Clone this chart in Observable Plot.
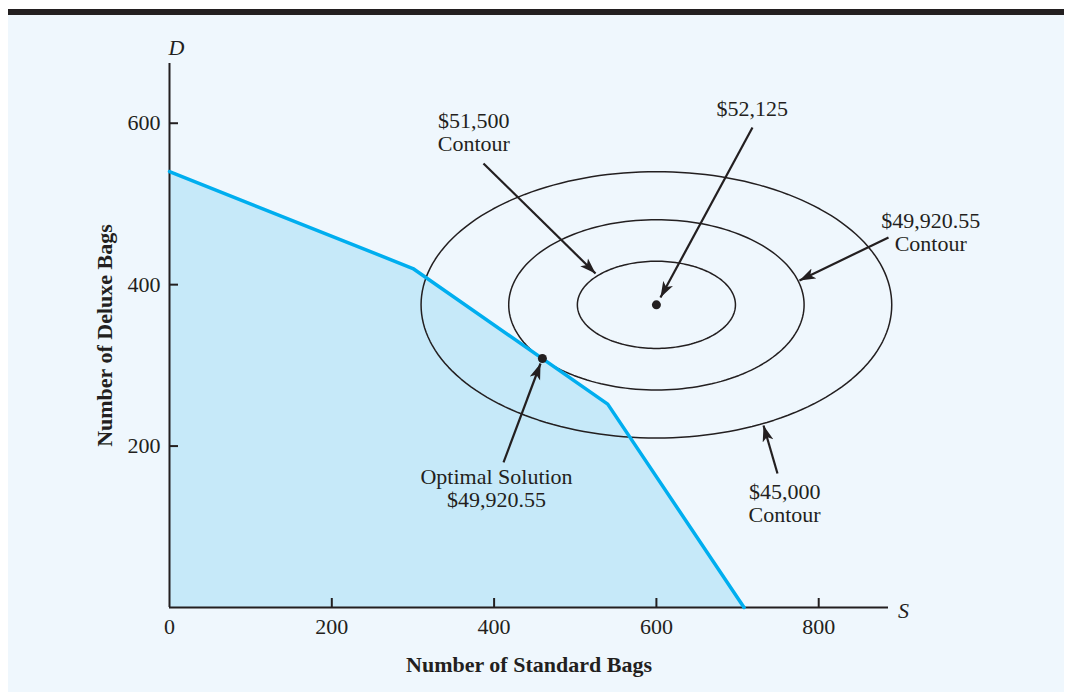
<!DOCTYPE html>
<html>
<head>
<meta charset="utf-8">
<script src="https://cdn.jsdelivr.net/npm/d3@7"></script>
<script src="https://cdn.jsdelivr.net/npm/@observablehq/plot@0.6"></script>
<style>
  html, body { margin: 0; padding: 0; background: #ffffff; }
  #wrap { position: relative; width: 1068px; height: 692px; overflow: hidden; }
  #bar { position: absolute; left: 8px; top: 9px; width: 1056px; height: 6px; background: #231f20; }
  #panel { position: absolute; left: 8px; top: 15px; width: 1056px; height: 677px; background: #eff7fd; }
  #chart { position: absolute; left: 0; top: 0; }
</style>
</head>
<body>
<div id="wrap">
  <div id="bar"></div>
  <div id="panel"></div>
  <div id="chart"></div>
</div>
<script>
// Feasible region boundary (vertices)
const regionS = [0, 300, 540, 708];
const regionD = [540, 420, 252, 0];

// Profit contours: centre and semi-axes
const centerS = 600;
const centerD = 375;
const contourA = [97.4, 182, 290];
const contourB = [54, 105.5, 165];

// Optimal solution
const optimalS = [459.5];
const optimalD = [308.5];

// Ticks
const xTickLabels = [0, 200, 400, 600, 800];
const xTicks = [200, 400, 600, 800];
const yTicks = [200, 400, 600];

// Annotations
const annLabels = ["$52,125", "$51,500\nContour", "$49,920.55\nContour", "Optimal Solution\n$49,920.55", "$45,000\nContour"];
const annS = [718, 375, 938, 403, 758];
const annD = [618, 589, 465, 148, 129.5];
const arrowS1 = [718.4, 386.9, 886, 411.6, 749.2];
const arrowD1 = [594.7, 550.1, 458.4, 179.7, 166];
const arrowS2 = [605, 525, 776.3, 457.2, 732];
const arrowD2 = [384, 413.8, 405.2, 302.3, 225.5];

const ink = "#231f20";
const font = "'Liberation Serif', 'Times New Roman', serif";

const region = regionS.map((s, i) => ({S: s, D: regionD[i]}));
const ellipsePts = [];
contourA.forEach((a, c) => {
  const b = contourB[c];
  for (let k = 0; k < 180; k++) {
    const t = (k / 180) * 2 * Math.PI;
    ellipsePts.push({S: centerS + a * Math.cos(t), D: centerD + b * Math.sin(t), c});
  }
});
const dots = [{S: centerS, D: centerD}, {S: optimalS[0], D: optimalD[0]}];
const anns = annLabels.map((t, i) => ({t, S: annS[i], D: annD[i]}));
const arrows = arrowS1.map((s, i) => ({S1: s, D1: arrowD1[i], S2: arrowS2[i], D2: arrowD2[i]}));

function filledHead(color, context) {
  const doc = (context && context.document) || document;
  const m = doc.createElementNS("http://www.w3.org/2000/svg", "marker");
  m.setAttribute("viewBox", "-16 -6 16 12");
  m.setAttribute("markerWidth", "16");
  m.setAttribute("markerHeight", "12");
  m.setAttribute("markerUnits", "userSpaceOnUse");
  m.setAttribute("refX", "0");
  m.setAttribute("refY", "0");
  m.setAttribute("orient", "auto");
  const p = doc.createElementNS("http://www.w3.org/2000/svg", "path");
  p.setAttribute("d", "M-16,-5.5L0,0L-16,5.5L-12,0Z");
  p.setAttribute("fill", ink);
  p.setAttribute("stroke", "none");
  m.appendChild(p);
  return m;
}

const chart = Plot.plot({
  width: 1068,
  height: 692,
  marginLeft: 169,
  marginRight: 180,
  marginTop: 63,
  marginBottom: 85,
  x: {domain: [0, 886], label: null},
  y: {domain: [0, 674], label: null},
  style: {background: "transparent", fontFamily: font, fontSize: "22px", color: ink, overflow: "visible"},
  marks: [
    Plot.areaY(region, {x: "S", y: "D", fill: "#c6e9f9"}),
    Plot.line(ellipsePts, {x: "S", y: "D", z: "c", curve: "linear-closed", stroke: ink, strokeWidth: 1.5}),
    Plot.ruleY([0], {stroke: ink, strokeWidth: 2}),
    Plot.ruleX([0], {stroke: ink, strokeWidth: 2}),
    Plot.line(region, {x: "S", y: "D", stroke: "#00aeef", strokeWidth: 3.5}),
    Plot.axisX(xTicks, {tickSize: -9, strokeWidth: 2, stroke: ink, tickFormat: () => "", label: null}),
    Plot.axisY(yTicks, {tickSize: -9, strokeWidth: 2, stroke: ink, tickFormat: () => "", label: null}),
    Plot.axisX(xTickLabels, {tickSize: 0, tickPadding: 11, fontSize: 22, fill: ink, label: null}),
    Plot.axisY(yTicks, {tickSize: 0, tickPadding: 9, fontSize: 22, fill: ink, label: null}),
    Plot.dot(dots, {x: "S", y: "D", r: 4.5, fill: ink, stroke: null}),
    Plot.link(arrows, {x1: "S1", y1: "D1", x2: "S2", y2: "D2", stroke: ink, strokeWidth: 2.2, markerEnd: filledHead}),
    Plot.text(anns, {x: "S", y: "D", text: "t", fontSize: 22, lineHeight: 1.05, lineAnchor: "middle", fill: ink}),
    Plot.text(["Number of Standard Bags"], {frameAnchor: "bottom", textAnchor: "middle", lineAnchor: "middle", dy: 57, fontSize: 22, fontWeight: "bold", fill: ink}),
    Plot.text(["Number of Deluxe Bags"], {frameAnchor: "left", textAnchor: "middle", lineAnchor: "middle", dx: -65, rotate: -90, fontSize: 22, fontWeight: "bold", fill: ink}),
    Plot.text(["D"], {frameAnchor: "top-left", textAnchor: "middle", lineAnchor: "middle", dx: 7, dy: -16, fontSize: 22, fontStyle: "italic", fill: ink}),
    Plot.text(["S"], {frameAnchor: "bottom-right", textAnchor: "middle", lineAnchor: "middle", dx: 15, dy: 3, fontSize: 22, fontStyle: "italic", fill: ink})
  ]
});
document.getElementById("chart").appendChild(chart);
</script>
</body>
</html>
